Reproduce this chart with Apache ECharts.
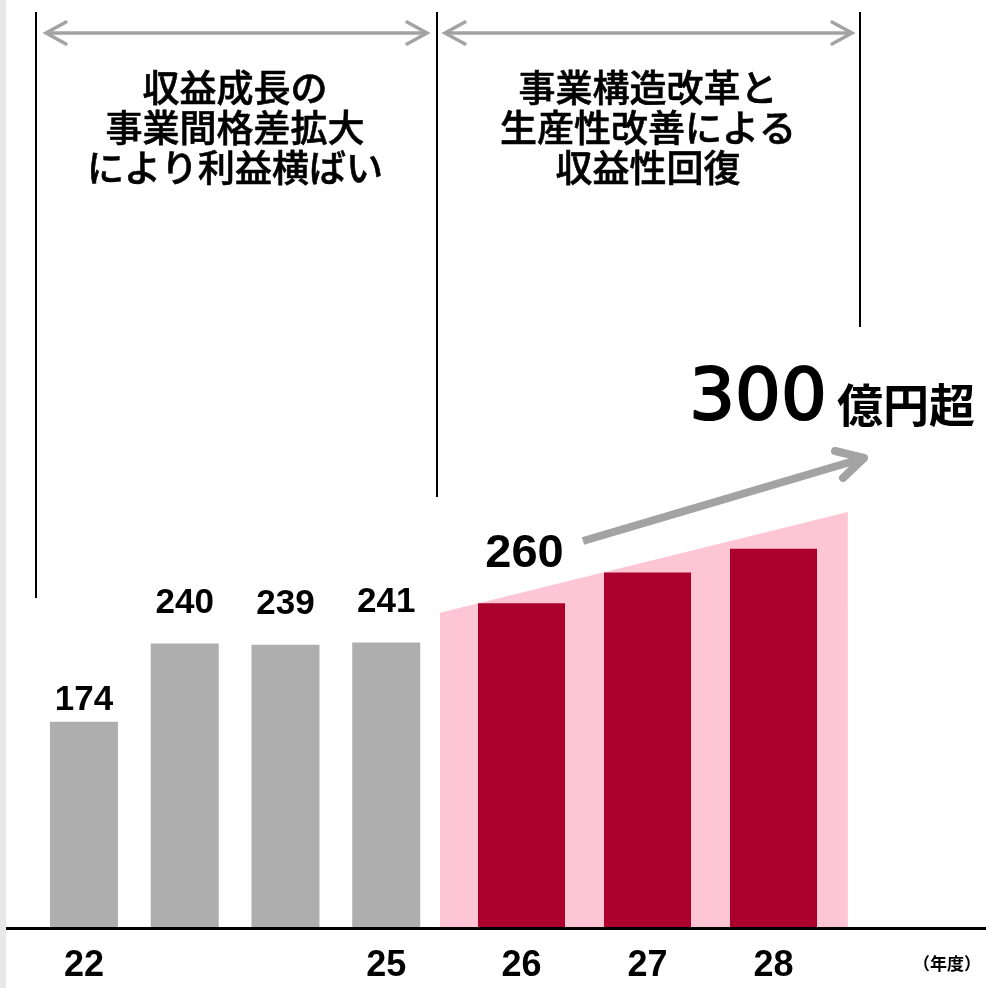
<!DOCTYPE html>
<html>
<head>
<meta charset="utf-8">
<script src="https://cdn.jsdelivr.net/npm/echarts@6/dist/echarts.min.js"></script>
<style>
html,body{margin:0;padding:0;background:#fff;}
#chart{width:986px;height:988px;}
</style>
</head>
<body>
<div id="chart"></div>
<script>
// ---- data ----
const categoriesA = ['22', '23', '24', '25'];
const categoriesB = ['26', '27', '28'];
const tickLabelsA = ['22', '', '', '25'];
const tickLabelsB = ['26', '27', '28'];
const valuesA = [174, 240, 239, 241];
const valuesB = [274, 300, 320];          // bar heights as drawn
const labelsA = ['174', '240', '239', '241'];
const labelsB = ['260', '', ''];
const bandValues = [266, 351];            // pink band height at left / right edge
const titleA = '収益成長の\n事業間格差拡大\nにより利益横ばい';
const titleB = '事業構造改革と\n生産性改善による\n収益性回復';
const targetNum = '300';
const targetUnit = '億円超';
const unitLabel = '（年度）';

const GRAY = '#aeaeae', RED = '#ab002c', PINK = '#fec6d4', ARROW = '#a3a3a3';
const NUMFONT = '"Liberation Sans", Arial, sans-serif';
const JPFONT = '"Noto Sans CJK JP", sans-serif';

const chart = echarts.init(document.getElementById('chart'), null, {renderer: 'canvas'});

const dataA = valuesA.map((v, i) => ({value: v, label: {distance: i === 0 ? 4 : 23}}));

const option = {
  backgroundColor: '#fff',
  animation: false,
  grid: [
    {left: 33.6, width: 403, top: 98.5, bottom: 60},
    {left: 458.5, width: 378, top: 98.5, bottom: 60}
  ],
  xAxis: [
    {gridIndex: 0, type: 'category', data: categoriesA, axisLine: {show: false}, axisTick: {show: false},
     axisLabel: {margin: 20, fontSize: 36, fontWeight: 'bold', fontFamily: NUMFONT, color: '#000',
       formatter: (v, i) => tickLabelsA[i]}},
    {gridIndex: 1, type: 'category', data: categoriesB, axisLine: {show: false}, axisTick: {show: false},
     axisLabel: {margin: 20, fontSize: 36, fontWeight: 'bold', fontFamily: NUMFONT, color: '#000',
       formatter: (v, i) => tickLabelsB[i]}}
  ],
  yAxis: [
    {gridIndex: 0, type: 'value', min: 0, max: 700, show: false},
    {gridIndex: 1, type: 'value', min: 0, max: 700, show: false}
  ],
  series: [
    {
      type: 'custom', xAxisIndex: 1, yAxisIndex: 1, z: 1, silent: true,
      data: [[0]],
      renderItem: function (params, api) {
        const w = api.size([1, 0])[0];
        const pl = api.coord([0, bandValues[0]]);
        const pr = api.coord([categoriesB.length - 1, bandValues[1]]);
        const b0 = api.coord([0, 0]);
        const lx = pl[0] - 0.647 * w;
        const rx = pr[0] + 0.59 * w;
        return {
          type: 'polygon',
          shape: {points: [[lx, b0[1]], [lx, pl[1]], [rx, pr[1]], [rx, b0[1]]]},
          style: {fill: PINK}
        };
      }
    },
    {
      type: 'bar', xAxisIndex: 0, yAxisIndex: 0, z: 2, barWidth: 68,
      data: dataA, itemStyle: {color: GRAY},
      label: {show: true, position: 'top', fontSize: 35, fontWeight: 'bold',
        fontFamily: NUMFONT, color: '#000', formatter: p => labelsA[p.dataIndex]}
    },
    {
      type: 'bar', xAxisIndex: 1, yAxisIndex: 1, z: 2, barWidth: 87,
      data: valuesB, itemStyle: {color: RED},
      label: {show: true, position: 'top', distance: 26, offset: [3, 0], fontSize: 47, fontWeight: 'bold',
        fontFamily: NUMFONT, color: '#000', formatter: p => labelsB[p.dataIndex]}
    }
  ],
  graphic: [
    {type: 'rect', shape: {x: 0, y: 0, width: 6, height: 988}, style: {fill: '#e8e8e8'}, z: 0},
    {type: 'line', shape: {x1: 6, y1: 928.5, x2: 986, y2: 928.5}, style: {stroke: '#000', lineWidth: 3}, z: 10},
    {type: 'line', shape: {x1: 36, y1: 12, x2: 36, y2: 598}, style: {stroke: '#000', lineWidth: 2}},
    {type: 'line', shape: {x1: 437, y1: 12, x2: 437, y2: 497}, style: {stroke: '#000', lineWidth: 2}},
    {type: 'line', shape: {x1: 860, y1: 12, x2: 860, y2: 327}, style: {stroke: '#000', lineWidth: 2}},
    // top double arrows
    {type: 'line', shape: {x1: 46, y1: 33, x2: 427, y2: 33}, style: {stroke: ARROW, lineWidth: 3.5}},
    {type: 'polyline', shape: {points: [[66, 22], [46, 33], [66, 44]]}, style: {stroke: ARROW, lineWidth: 3.5, fill: null, lineCap: 'round'}},
    {type: 'polyline', shape: {points: [[407, 22], [427, 33], [407, 44]]}, style: {stroke: ARROW, lineWidth: 3.5, fill: null, lineCap: 'round'}},
    {type: 'line', shape: {x1: 445, y1: 33, x2: 852, y2: 33}, style: {stroke: ARROW, lineWidth: 3.5}},
    {type: 'polyline', shape: {points: [[465, 22], [445, 33], [465, 44]]}, style: {stroke: ARROW, lineWidth: 3.5, fill: null, lineCap: 'round'}},
    {type: 'polyline', shape: {points: [[832, 22], [852, 33], [832, 44]]}, style: {stroke: ARROW, lineWidth: 3.5, fill: null, lineCap: 'round'}},
    // titles
    {type: 'text', x: 235, y: 128, style: {text: titleA, align: 'center', verticalAlign: 'middle',
      font: '500 37px ' + JPFONT, lineHeight: 40, fill: '#000', stroke: '#000', lineWidth: 0.6}},
    {type: 'text', x: 648, y: 128, style: {text: titleB, align: 'center', verticalAlign: 'middle',
      font: '500 37px ' + JPFONT, lineHeight: 40, fill: '#000', stroke: '#000', lineWidth: 0.6}},
    // target
    {type: 'text', x: 758, y: 400, style: {text: targetNum, align: 'center', verticalAlign: 'middle',
      font: 'normal 72px "DejaVu Sans", sans-serif', fill: '#000', stroke: '#000', lineWidth: 2.2}},
    {type: 'text', x: 906, y: 405, style: {text: targetUnit, align: 'center', verticalAlign: 'middle',
      font: 'bold 46px ' + JPFONT, fill: '#000'}},
    // big arrow
    {type: 'line', shape: {x1: 583, y1: 541, x2: 864, y2: 458}, style: {stroke: ARROW, lineWidth: 8}},
    {type: 'polyline', shape: {points: [[835, 451], [864, 458], [843, 478]]}, style: {stroke: ARROW, lineWidth: 8, fill: null, lineCap: 'round', lineJoin: 'round'}},
    // unit
    {type: 'text', x: 947, y: 964, style: {text: unitLabel, align: 'center', verticalAlign: 'middle',
      font: 'bold 17px ' + JPFONT, fill: '#000'}}
  ]
};
chart.setOption(option);
</script>
</body>
</html>
